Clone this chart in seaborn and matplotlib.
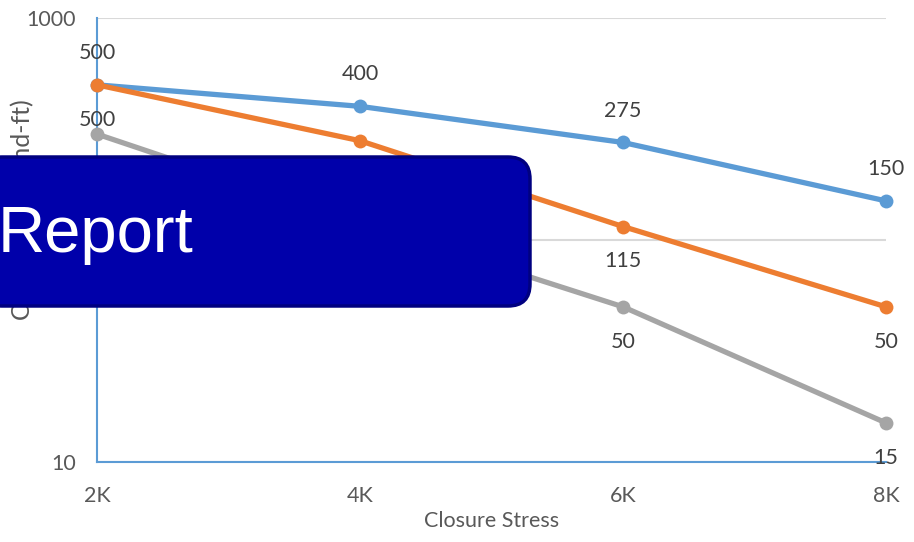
import pandas as pd
import matplotlib
matplotlib.use("Agg")
import matplotlib.pyplot as plt
import seaborn as sns
from matplotlib.patches import FancyBboxPatch
from matplotlib.ticker import FixedLocator, FixedFormatter, NullLocator

# data
stress = ["2K", "4K", "6K", "8K"]
series_names = ["Series 1", "Series 2", "Series 3"]
blue_vals = [500, 400, 275, 150]
orange_vals = [500, 280, 115, 50]
gray_vals = [300, 120, 50, 15]
colors = ["#5B9BD5", "#ED7D31", "#A5A5A5"]
label_offsets = [23, -25, -25]  # points, + above, - below

y_ticks = [10, 100, 1000]
y_tick_labels = ["10", "100", "1000"]

sns.set_style("white")
plt.rcParams["font.family"] = ["Lato", "DejaVu Sans"]

rows = []
for name, vals in zip(series_names, [blue_vals, orange_vals, gray_vals]):
    for s, v in zip(stress, vals):
        rows.append({"stress": s, "value": v, "series": name})
df = pd.DataFrame(rows)

fig = plt.figure(figsize=(9.14, 5.42), dpi=100)
ax = fig.add_axes([0.1061, 0.1476, 0.8633, 0.8192])

sns.lineplot(data=df, x="stress", y="value", hue="series", palette=colors,
             marker="o", markersize=10, markeredgewidth=0, linewidth=3.8,
             legend=False, ax=ax, zorder=3)
for line in ax.get_lines():
    line.set_clip_on(False)

ax.set_yscale("log")
ax.set_ylim(10, 1000)
ax.set_xlim(0, 3)
ax.yaxis.set_major_locator(FixedLocator(y_ticks))
ax.yaxis.set_major_formatter(FixedFormatter(y_tick_labels))
ax.yaxis.set_minor_locator(NullLocator())
ax.grid(axis="y", color="#D9D9D9", linewidth=1.5, zorder=0)
ax.grid(axis="x", visible=False)

for side in ["top", "right"]:
    ax.spines[side].set_visible(False)
for side in ["left", "bottom"]:
    ax.spines[side].set_color("#5B9BD5")
    ax.spines[side].set_linewidth(1.5)
ax.tick_params(axis="both", colors="#5B9BD5", length=5, width=1.2,
               labelcolor="#595959", labelsize=15.5, pad=6)
ax.tick_params(axis="y", pad=10)
ax.tick_params(axis="x", pad=12)

ax.set_xlabel("Closure Stress", fontsize=15.5, color="#595959", labelpad=4)
ax.set_ylabel("Conductivity (md-ft)", fontsize=18, color="#595959")
ax.yaxis.set_label_coords(-0.08, 0.568)

# data labels
for vals, off in zip([blue_vals, orange_vals, gray_vals], label_offsets):
    for i, v in enumerate(vals):
        ax.annotate(str(v), (i, v), xytext=(0, off), textcoords="offset points",
                    ha="center", va="center", fontsize=15.5, color="#404040",
                    zorder=4, annotation_clip=False)

# the "Report" banner on top of the chart
banner = FancyBboxPatch((-0.2, 2.36), 5.5, 1.49,
                        boxstyle="round,pad=0,rounding_size=0.22",
                        transform=fig.dpi_scale_trans, facecolor="#0000AA",
                        edgecolor="#000080", linewidth=2.5, zorder=10)
fig.add_artist(banner)
fig.text(-0.02, 2.90, "Report", transform=fig.dpi_scale_trans,
         fontsize=47, color="white", ha="left", va="baseline",
         family="Liberation Sans", zorder=11)

fig.savefig("out.png", dpi=100)
